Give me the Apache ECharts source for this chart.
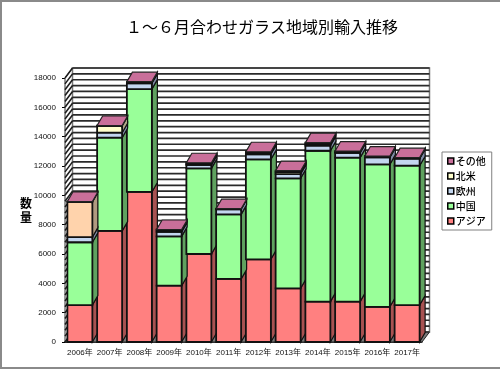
<!DOCTYPE html>
<html><head><meta charset="utf-8">
<style>html,body{margin:0;padding:0;background:#fff}#c{width:500px;height:370px}</style>
<script src="https://cdn.jsdelivr.net/npm/echarts@6/dist/echarts.min.js"></script>
</head><body><div id="c"></div>
<script>
const categories=['2006年','2007年','2008年','2009年','2010年','2011年','2012年','2013年','2014年','2015年','2016年','2017年'];
const asia=[2520,7570,10230,3840,6000,4300,5640,3660,2750,2750,2400,2520];
const china=[4280,6360,7010,3360,5840,4400,6810,7500,10290,9820,9710,9500];
const europe=[350,340,400,310,230,350,350,290,350,320,480,480];
const northAmerica=[2400,460,50,110,80,20,80,130,100,70,40,30];
const other=[30,30,60,50,70,20,90,100,100,60,50,40];
const yTicks={min:0,max:18000,interval:2000,wallStep:400};

const stackDefs=[
 {name:'アジア',values:asia,front:'#ff8080',side:'#a85252'},
 {name:'中国',values:china,front:'#99ff99',side:'#5fa25f'},
 {name:'欧州',values:europe,front:'#c3d6ef',side:'#7f8ca6'},
 {name:'北米',values:northAmerica,front:'#ffffcc',side:'#b0a888'},
 {name:'その他',values:other,front:'#c96f9a',side:'#7a4560'}
];
const WALL_DX=7.5,WALL_DY=-10,BAR_DX=5.5,BAR_DY=-9.5;
const cumulative=categories.map(()=>0);
const font='"Liberation Sans","Noto Sans CJK JP",sans-serif';

function poly(points,fill,stroke,w){
 return {type:'polygon',shape:{points},style:{fill,stroke,lineWidth:w,lineJoin:'miter'}};
}
function wallRender(params,api){
 const x0=api.coord([0,0])[0]-api.size([1,0])[0]/2;
 const x1=api.coord([categories.length-1,0])[0]+api.size([1,0])[0]/2;
 const yb=api.coord([0,yTicks.min])[1], yt=api.coord([0,yTicks.max])[1];
 const ch=[];
 ch.push(poly([[x0,yb],[x1,yb],[x1+WALL_DX,yb+WALL_DY],[x0+WALL_DX,yb+WALL_DY]],'#7c7c7c','#222',1));
 ch.push(poly([[x0,yt],[x0+WALL_DX,yt+WALL_DY],[x0+WALL_DX,yb+WALL_DY],[x0,yb]],'#fff','#333',1));
 ch.push(poly([[x0+WALL_DX,yt+WALL_DY],[x1+WALL_DX,yt+WALL_DY],[x1+WALL_DX,yb+WALL_DY],[x0+WALL_DX,yb+WALL_DY]],'#fff','#777',1.5));
 for(let v=yTicks.min;v<=yTicks.max;v+=yTicks.wallStep){
  const y=api.coord([0,v])[1];
  ch.push({type:'line',shape:{x1:x0+WALL_DX,y1:y+WALL_DY,x2:x1+WALL_DX,y2:y+WALL_DY},style:{stroke:'#2a2a2a',lineWidth:1.7}});
  ch.push({type:'line',shape:{x1:x0,y1:y,x2:x0+WALL_DX,y2:y+WALL_DY},style:{stroke:'#1c1c1c',lineWidth:1.6}});
 }
 return {type:'group',children:ch};
}
function barRender(def,isTop){
 return function(params,api){
  const i=api.value(0),lo=api.value(1),hi=api.value(2);
  const band=api.size([1,0])[0], bw=band*0.84;
  const cx=api.coord([i,0])[0];
  const l=cx-bw/2,r=cx+bw/2;
  const yl=api.coord([i,lo])[1],yh=api.coord([i,hi])[1];
  const peach=def.name==='北米'&&params.dataIndex===0;
  const front=peach?'#ffd3ac':def.front, side=peach?'#b09a80':def.side;
  const ch=[];
  ch.push(poly([[r,yl],[r+BAR_DX,yl+BAR_DY],[r+BAR_DX,yh+BAR_DY],[r,yh]],side,'#111',1.2));
  ch.push(poly([[l,yl],[r,yl],[r,yh],[l,yh]],front,'#111',1.8));
  if(isTop) ch.push(poly([[l,yh],[r,yh],[r+BAR_DX,yh+BAR_DY],[l+BAR_DX,yh+BAR_DY]],def.front,'#222',1.2));
  return {type:'group',children:ch};
 };
}
const barSeries=stackDefs.map((d,k)=>{
 const data=d.values.map((v,i)=>{const lo=cumulative[i];cumulative[i]+=v;return [i,lo,cumulative[i]];});
 return {name:d.name,type:'custom',coordinateSystem:'cartesian2d',z:3+k,clip:false,
  itemStyle:{color:d.front},encode:{x:0,y:[1,2]},data,renderItem:barRender(d,k===stackDefs.length-1)};
});
const chart=echarts.init(document.getElementById('c'),null,{renderer:'canvas'});
chart.setOption({
 animation:false,
 backgroundColor:'#fff',
 title:{text:'１～６月合わせガラス地域別輸入推移',left:257,top:14,textAlign:'center',
  textStyle:{fontFamily:'"Noto Sans CJK JP",sans-serif',fontSize:16,fontWeight:'normal',color:'#000'}},
 graphic:[{type:'rect',z:-1,shape:{x:1,y:1,width:510,height:367},style:{fill:'none',stroke:'#8a8a8a',lineWidth:2}}],
 legend:{data:['その他','北米','欧州','中国','アジア'],orient:'vertical',left:442,top:152,
  padding:[4,6,4,5],itemGap:5,itemWidth:6,itemHeight:6,icon:'rect',borderColor:'#808080',borderWidth:1,selectedMode:false,
  itemStyle:{borderColor:'#000',borderWidth:1.5},
  textStyle:{fontFamily:'"Noto Sans CJK JP",sans-serif',fontSize:10,fontWeight:500,color:'#000',padding:[0,0,0,-3],lineHeight:10}},
 grid:{left:65,top:78,width:357,height:264,containLabel:false},
 xAxis:{type:'category',data:categories,axisTick:{show:false},
  axisLine:{lineStyle:{color:'#000',width:1.5}},
  axisLabel:{fontFamily:font,fontSize:8,color:'#111',margin:7,interval:0}},
 yAxis:{type:'value',min:yTicks.min,max:yTicks.max,interval:yTicks.interval,
  name:'数\n量',nameLocation:'middle',nameGap:33,nameRotate:0,nameMoveOverlap:false,
  nameTextStyle:{fontFamily:'"Noto Sans CJK JP",sans-serif',fontSize:12,fontWeight:'bold',color:'#000',lineHeight:14,padding:[12,0,0,0]},
  splitLine:{show:false},
  axisLine:{show:true,lineStyle:{color:'#000',width:1}},
  axisTick:{show:true,length:3,lineStyle:{color:'#000'}},
  axisLabel:{fontFamily:font,fontSize:8,color:'#111',margin:9,formatter:v=>String(v)}},
 series:[{name:'wall',type:'custom',coordinateSystem:'cartesian2d',z:1,clip:false,silent:true,encode:{x:0,y:1},
   data:[[0,0]],renderItem:wallRender}].concat(barSeries)
});
</script></body></html>
